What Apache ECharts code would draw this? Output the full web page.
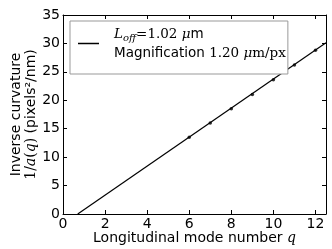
<!DOCTYPE html>
<html><head><meta charset="utf-8">
<script src="https://cdn.jsdelivr.net/npm/echarts@6/dist/echarts.min.js"></script>
<style>html,body{margin:0;padding:0;background:#fff}#c{width:332px;height:249px}</style>
</head><body><div id="c"></div>
<script>
// Measured mode data
var modeNumbers = [6, 7, 8, 9, 10, 11, 12];
var inverseCurvature = [13.5, 16.0, 18.5, 21.0, 23.6, 26.2, 28.8];
// Linear fit endpoints (x-intercept at L_off and right edge)
var fitX = [0.7, 12.5];
var fitY = [0, 30.1];
var xTicks = [0, 2, 4, 6, 8, 10, 12];
var yTicks = [0, 5, 10, 15, 20, 25, 30, 35];

var F = 'DejaVu Sans';
var S = 'DejaVu Serif';
var FS = 14;
var LFS = 13.5;
var chart = echarts.init(document.getElementById('c'), null, {renderer: 'canvas'});
var tick = {show: true, inside: true, length: 4, lineStyle: {color: '#000', width: 1}};
var line = {show: true, onZero: false, lineStyle: {color: '#000', width: 1}};
var richBase = {
  it: {fontFamily: S, fontStyle: 'italic', fontSize: FS, color: '#000'},
  n: {fontFamily: F, fontSize: FS, color: '#000'},
  sr: {fontFamily: S, fontSize: FS, color: '#000'}
};
chart.setOption({
  animation: false,
  backgroundColor: '#fff',
  grid: {left: 63, right: 6, top: 15, bottom: 35, containLabel: false, outerBoundsMode: 'none'},
  legend: {
    left: 70, top: 21,
    data: [{name: 'fit', icon: 'rect'}],
    itemWidth: 21, itemHeight: 1.5,
    padding: [6, 2, 14, 8],
    borderColor: '#999', borderWidth: 1,
    backgroundColor: '#fff',
    formatter: function () {
      return '{it|L}{sub|off}{sr|=1.02 }{it|μ}{n|m}\n{n|Magnification }{sr|1.20 }{it|μ}{sr|m/px}';
    },
    textStyle: {
      padding: [0, 0, 0, 10],
      rich: {
        it: {fontFamily: S, fontStyle: 'italic', fontSize: LFS, lineHeight: 19, color: '#000'},
        sub: {fontFamily: S, fontStyle: 'italic', fontSize: 10, lineHeight: 19, verticalAlign: 'bottom', padding: [6, 0, 0, 0], color: '#000'},
        n: {fontFamily: F, fontSize: LFS, lineHeight: 19, color: '#000'},
        sr: {fontFamily: S, fontSize: LFS, lineHeight: 19, color: '#000'}
      }
    }
  },
  xAxis: [{
    type: 'value', min: 0, max: 12.5, interval: 2, position: 'bottom',
    axisLine: line, axisTick: tick, splitLine: {show: false},
    axisLabel: {showMaxLabel: false, fontFamily: F, fontSize: FS, color: '#000', margin: 3,
      formatter: function (v) { return xTicks.indexOf(v) >= 0 ? String(v) : ''; }},
    name: '{n|Longitudinal mode number }{it|q}', nameLocation: 'middle', nameGap: 17, nameMoveOverlap: false,
    nameTextStyle: {rich: richBase}
  }, {
    type: 'value', min: 0, max: 12.5, interval: 2, position: 'top',
    axisLine: line, axisTick: tick, axisLabel: {show: false}, splitLine: {show: false}
  }],
  yAxis: [{
    type: 'value', min: 0, max: 35, interval: 5, position: 'left',
    axisLine: line, axisTick: tick, splitLine: {show: false},
    axisLabel: {fontFamily: F, fontSize: FS, color: '#000', margin: 3,
      formatter: function (v) { return yTicks.indexOf(v) >= 0 ? String(v) : ''; }},
    name: '{n|Inverse curvature}\n{sr|1/}{it|a}{sr|(}{it|q}{sr|)}{n| (pixels²/nm)}', nameLocation: 'middle', nameGap: 24, nameRotate: 90, nameMoveOverlap: false,
    nameTextStyle: {rich: {
      n: {fontFamily: F, fontSize: FS, lineHeight: 15, color: '#000'},
      it: {fontFamily: S, fontStyle: 'italic', fontSize: FS, lineHeight: 15, color: '#000'},
      sr: {fontFamily: S, fontSize: FS, lineHeight: 15, color: '#000'}}}
  }, {
    type: 'value', min: 0, max: 35, interval: 5, position: 'right',
    axisLine: line, axisTick: tick, axisLabel: {show: false}, splitLine: {show: false}
  }],
  series: [{
    name: 'fit', type: 'line', showSymbol: false, symbol: 'none',
    data: fitX.map(function (x, i) { return [x, fitY[i]]; }),
    lineStyle: {color: '#000', width: 1.2}, itemStyle: {color: '#000'}
  }, {
    name: 'data', type: 'scatter', symbolSize: 3.5,
    data: modeNumbers.map(function (x, i) { return [x, inverseCurvature[i]]; }),
    itemStyle: {color: '#000'}
  }]
});
</script></body></html>
